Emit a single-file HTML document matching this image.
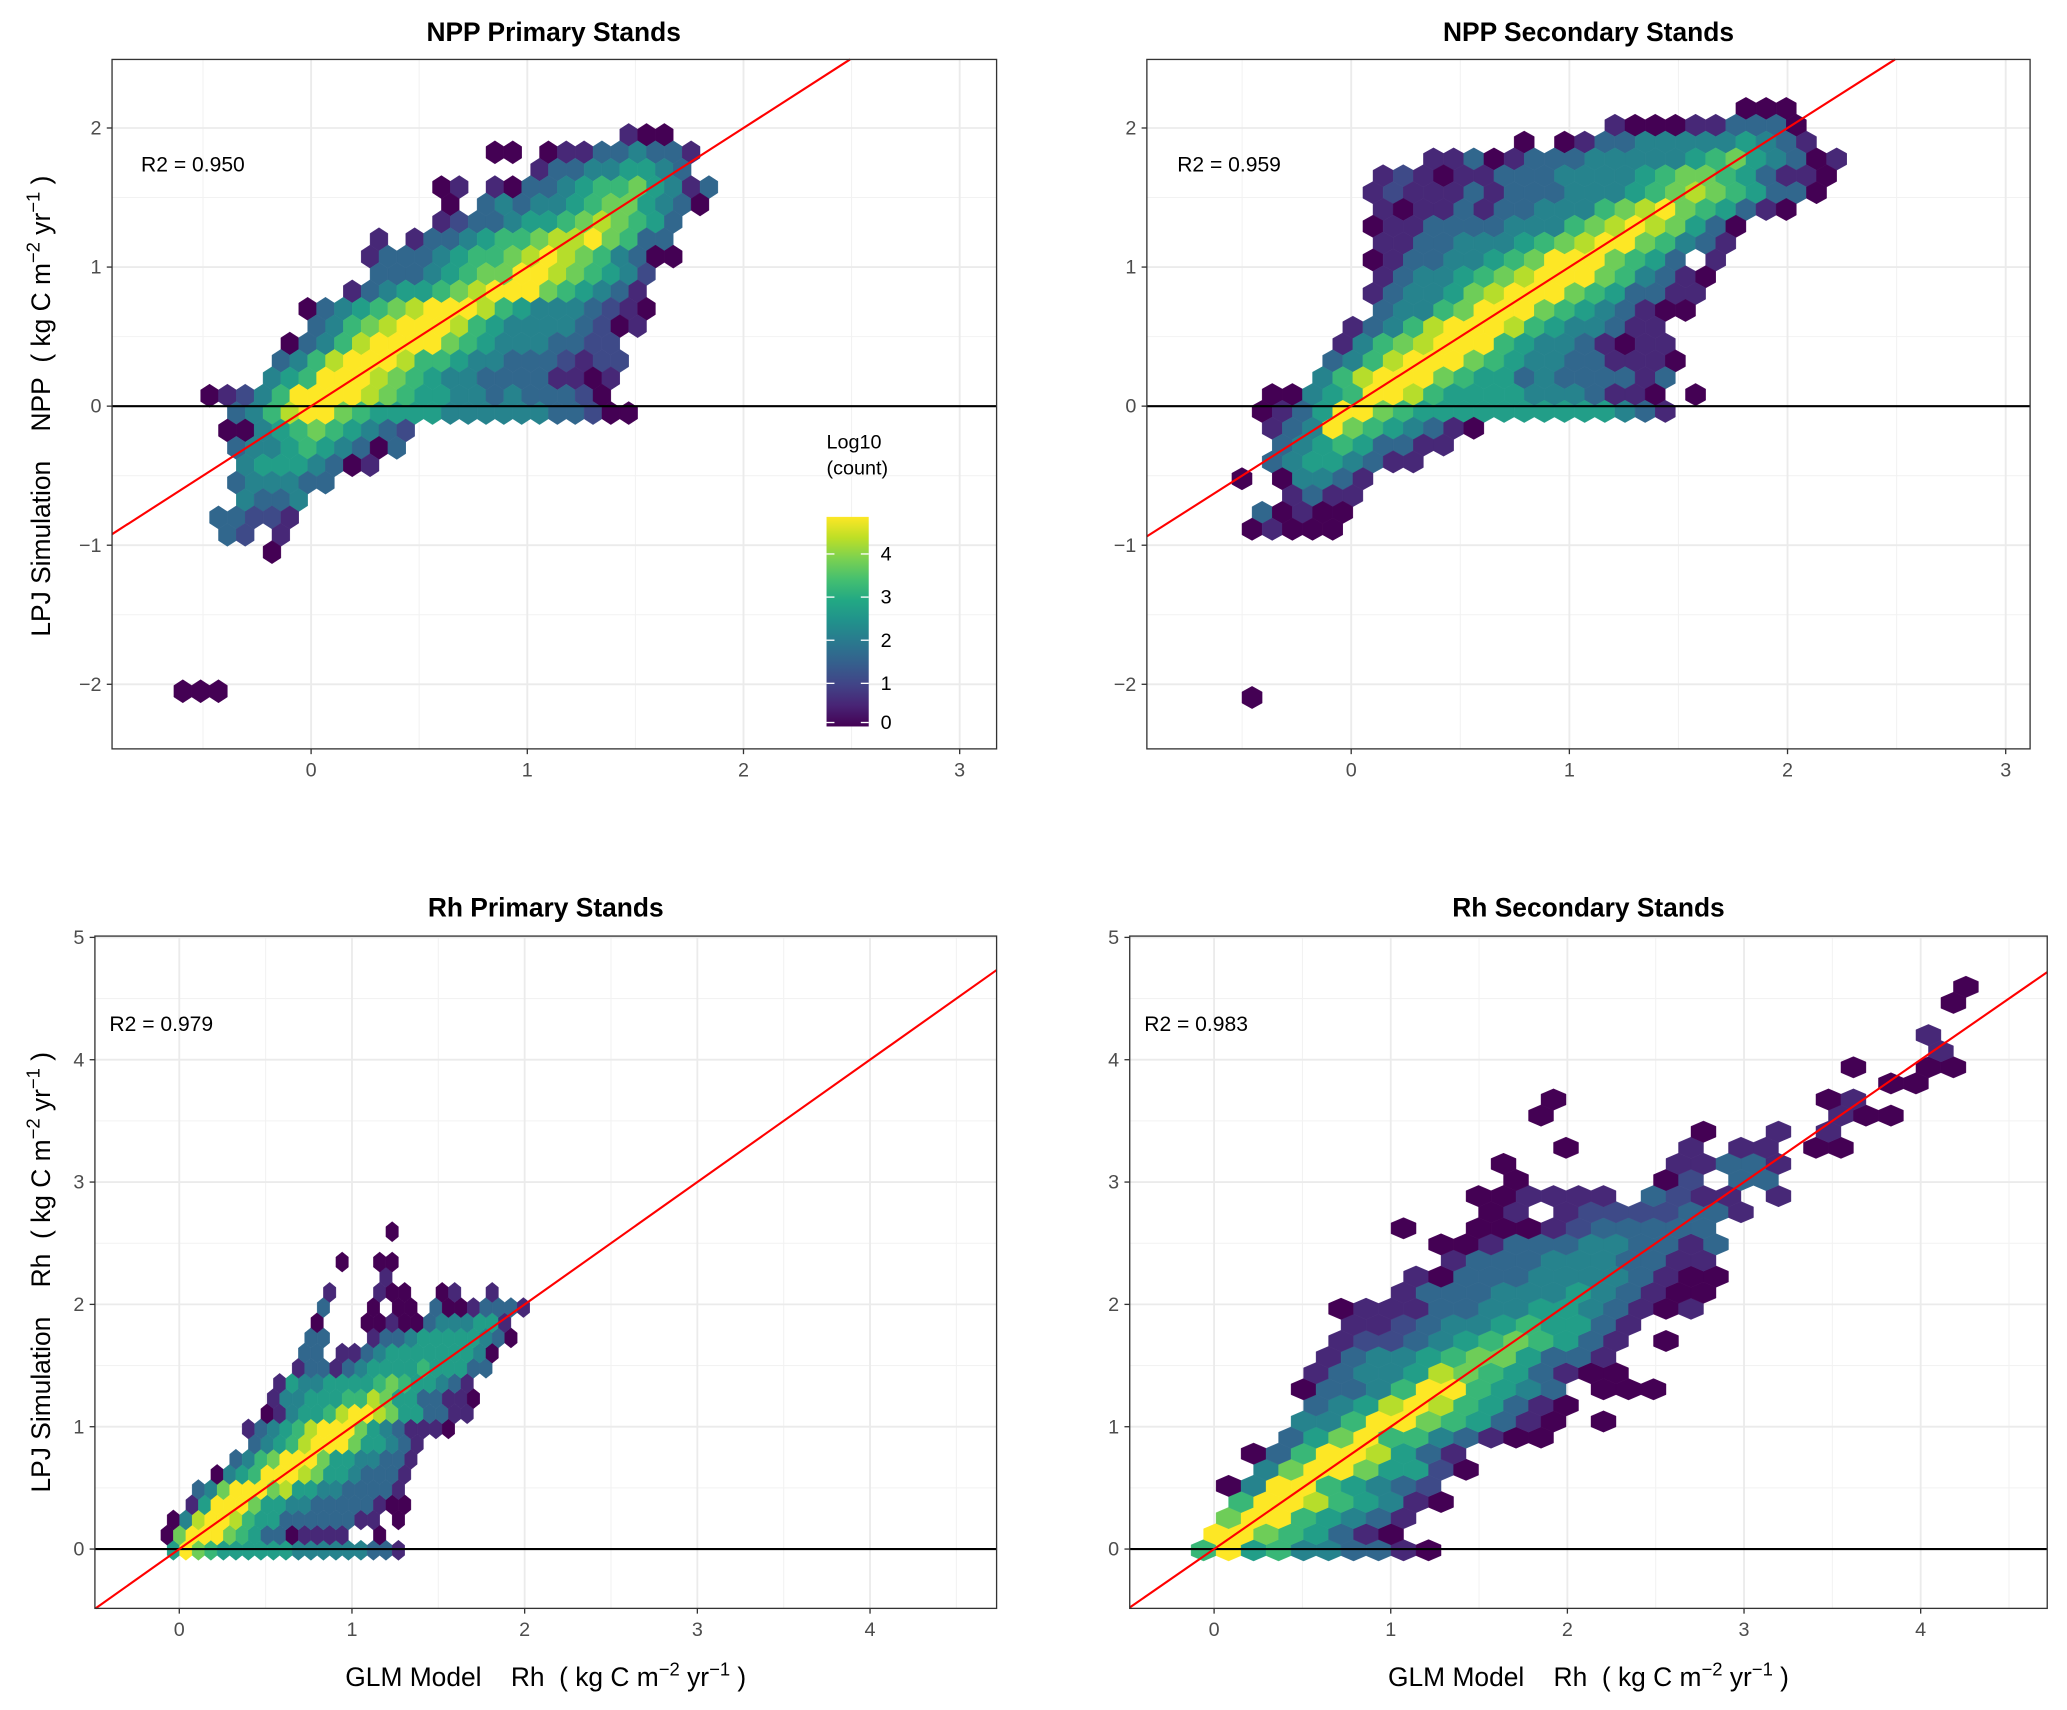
<!DOCTYPE html>
<html><head><meta charset="utf-8"><style>
html,body{margin:0;padding:0;background:#fff;}
svg{display:block;font-family:"Liberation Sans",sans-serif;}
</style></head><body>
<svg id="fig" width="2067" height="1710" viewBox="0 0 1568 1297" xmlns="http://www.w3.org/2000/svg">
<defs>
<linearGradient id="vir" x1="0" y1="1" x2="0" y2="0">
<stop offset="0" stop-color="#440154"/><stop offset="0.1" stop-color="#482475"/><stop offset="0.2" stop-color="#414487"/><stop offset="0.3" stop-color="#355f8d"/><stop offset="0.4" stop-color="#2a788e"/><stop offset="0.5" stop-color="#21918c"/><stop offset="0.6" stop-color="#22a884"/><stop offset="0.7" stop-color="#44bf70"/><stop offset="0.8" stop-color="#7ad151"/><stop offset="0.9" stop-color="#bddf26"/><stop offset="1" stop-color="#fde725"/>
</linearGradient>
</defs>
<text x="420" y="31" text-anchor="middle" font-size="20" font-weight="bold">NPP Primary Stands</text>
<text x="1205" y="31" text-anchor="middle" font-size="20" font-weight="bold">NPP Secondary Stands</text>
<text x="414" y="695" text-anchor="middle" font-size="20" font-weight="bold">Rh Primary Stands</text>
<text x="1205" y="695" text-anchor="middle" font-size="20" font-weight="bold">Rh Secondary Stands</text>
<text transform="translate(38,308) rotate(-90)" text-anchor="middle" font-size="20">LPJ Simulation&#160;&#160;&#160;&#160;NPP&#160;&#160;( kg C m<tspan dy="-8" font-size="14">−2</tspan><tspan dy="8"> yr</tspan><tspan dy="-8" font-size="14">−1</tspan><tspan dy="8"> )</tspan></text>
<text transform="translate(38,965) rotate(-90)" text-anchor="middle" font-size="20">LPJ Simulation&#160;&#160;&#160;&#160;Rh&#160;&#160;( kg C m<tspan dy="-8" font-size="14">−2</tspan><tspan dy="8"> yr</tspan><tspan dy="-8" font-size="14">−1</tspan><tspan dy="8"> )</tspan></text>
<text x="414" y="1279" text-anchor="middle" font-size="20">GLM Model&#160;&#160;&#160;&#160;Rh&#160;&#160;( kg C m<tspan dy="-8" font-size="14">−2</tspan><tspan dy="8"> yr</tspan><tspan dy="-8" font-size="14">−1</tspan><tspan dy="8"> )</tspan></text>
<text x="1205" y="1279" text-anchor="middle" font-size="20">GLM Model&#160;&#160;&#160;&#160;Rh&#160;&#160;( kg C m<tspan dy="-8" font-size="14">−2</tspan><tspan dy="8"> yr</tspan><tspan dy="-8" font-size="14">−1</tspan><tspan dy="8"> )</tspan></text>
<g id="legend">
<text x="627" y="340" font-size="15">Log10</text>
<text x="627" y="360" font-size="15">(count)</text>
<rect x="627" y="392" width="32" height="159" fill="url(#vir)"/>
</g>
</svg>
<script>
// ---- data: hex bins per panel, rows of [rowIndex, startColumn, levelString] ----
// level digit d -> log10(count) = d*0.54 ; '.' = empty bin
const legendTicks = [0, 1, 2, 3, 4];
const legendMax = 4.86;
const levelStep = 0.54;
const r2Labels = ["R2 = 0.950", "R2 = 0.959", "R2 = 0.979", "R2 = 0.983"];
const npXTicks = [0, 1, 2, 3];
const npYTicks = [-2, -1, 0, 1, 2];
const rhXTicks = [0, 1, 2, 3, 4];
const rhYTicks = [0, 1, 2, 3, 4, 5];

const p1Rows = [
[32,26,"100"],[31,18.5,"00.011334331"],[30,21,"133445543"],[29,15.5,"01.1033456675413"],
[28,16,"0.3434456775430"],[27,15.5,"12334556787653"],[26,12,"1.133456678897633"],
[25,11.5,"133345667898764300"],[24,12,"3334567799876542"],[23,10.5,"13455678999765431"],
[22,8,"03456789998654443210"],[21,8.5,"3467899986544443201"],[20,7,"0346899997654443322"],
[19,6.5,"34689998665443332122"],[18,6,"45699987654433331101"],[17,2.5,"01246999987655443433320"],
[16,4,"34689976555544444433200"],[15,3.5,"00456765432"],[14,4,"3445654303"],[13,4.5,"45554301"],
[12,4,"344433"],[11,4.5,"4334"],[10,3,"33221"],[9,3.5,"32.1"],[8,6,"0"],[0,1,"000"]
];
const p2Rows = [
[0,26,"000"],[1,19.5,"1000113330"],[2,15,"0.0133444445431"],[3,10.5,"113013334444456754301"],
[4,8,"12101133344445677653110"],[5,7.5,"12111313334445678765330"],[6,8,"101131334446789765310"],
[7,7.5,"0113333444678987530"],[8,8,"113344456789976431"],[9,7.5,"0133445679997653.1"],
[10,8,"13445678999764310"],[11,7.5,"13445789997653311"],[12,8,"3446799976543100"],
[13,6.5,"1346899986544311"],[14,6,"14678999654431011"],[15,5.5,"346899976544331110"],
[16,5,"468999765534333313"],[17,2.5,"00456998655554443110.0"],[18,2,"013599765555555555431"],
[19,2.5,"13497654310"],[20,3,"345653311"],[21,2.5,"34554311"],[22,1,"0.04431"],
[23,3.5,"1311"],[24,2,"30100"],[25,1.5,"01000"],[35,1.5,"0"]
];
const p3Rows = [
[0,2,"5976555555444444331"],[1,1.5,"079997653301111..0"],[2,2,"04899865533333311.0"],
[3,3.5,"159997554433333100"],[4,4,"34799978554433331"],[5,5.5,"0456999875543331"],
[6,7,"346799975544331"],[7,8.5,"34568999755431"],[8,8,"13456899975431110"],
[9,9.5,"01455689987553311"],[10,10,"14455566875533110"],[11,10.5,"1544555567655431"],
[12,12,"1331345555655533"],[13,12.5,"33.1134555555540"],[14,13,"33...133455555430"],
[15,14,"0...001003444551"],[16,14.5,"3...0.00.30013331"],[17,15,"1...100..01..1"],
[18,19,"1"],[19,15.5,"0..00"],[21,19.5,"0"]
];
const p4Rows = [
[0,1,"6956443310"],[1,1.5,"99765310"],[2,2,"79965431"],[3,2.5,"699865410"],[4,2,"049965432"],
[5,3.5,"479975520"],[6,3,"036998531"],[7,4.5,"35796643100"],[8,5,"44699765310.0"],
[9,5.5,"34589865310"],[10,5,"03346996543.000"],[11,5.5,"1344587653100"],[12,6,"134456775331"],
[13,6.5,"122345676531.0"],[14,7,"112344565531"],[15,6.5,"011133445543101"],[16,9,"1333444543100"],
[17,9.5,"1033344443100"],[18,11,"13334443311"],[19,10.5,"001333443313"],[20,9,"0..0001233333"],
[21,12.5,"01.12222331"],[22,12,"001111.3211.1"],[23,13.5,"0.....02.33"],[24,13,"0......11331"],
[25,15.5,"0....1.11.00"],[26,21,"0..1.1"],[27,14.5,"0...........100"],[28,15,"0..........01"],
[29,28.5,"00"],[30,27,"0..00"],[31,30.5,"1"],[32,30,"1"],[34,31,"0"],[35,31.5,"0"]
];

const VIR = ["#440154","#482475","#414487","#355f8d","#2a788e","#21918c","#22a884","#44bf70","#7ad151","#bddf26","#fde725"];
function hex2rgb(h){return [parseInt(h.slice(1,3),16),parseInt(h.slice(3,5),16),parseInt(h.slice(5,7),16)];}
function viridis(t){t=Math.max(0,Math.min(1,t));const s=t*10,i=Math.min(9,Math.floor(s)),f=s-i;const a=hex2rgb(VIR[i]),b=hex2rgb(VIR[i+1]);return "rgb("+a.map((v,k)=>Math.round(v+(b[k]-v)*f)).join(",")+")";}

const NS = "http://www.w3.org/2000/svg";
const svg = document.getElementById("fig");
function mk(tag, attrs, parent){const e=document.createElementNS(NS,tag);for(const k in attrs)e.setAttribute(k,attrs[k]);(parent||svg).appendChild(e);return e;}

const panels = [
 {id:"npp-primary", L:85,R:756,T:45,B:568, x0px:236,xs:164, y0px:308,ys:105.5, xt:npXTicks, yt:npYTicks, rows:p1Rows, bx0:-0.676,bdx:0.0825, by0:-2.05,bdy:0.125, r2:r2Labels[0], r2x:107,r2y:130, rowDir:1},
 {id:"npp-secondary", L:870,R:1540,T:45,B:568, x0px:1025,xs:165.5, y0px:308,ys:105.5, xt:npXTicks, yt:npYTicks, rows:p2Rows, bx0:-0.593,bdx:0.0924, by0:2.14,bdy:0.121, r2:r2Labels[1], r2x:893,r2y:130, rowDir:-1},
 {id:"rh-primary", L:72,R:756,T:710,B:1220, x0px:136,xs:131, y0px:1175,ys:92.8, xt:rhXTicks, yt:rhYTicks, rows:p3Rows, bx0:-0.179,bdx:0.0724, by0:-0.01,bdy:0.124, r2:r2Labels[2], r2x:83,r2y:782, rowDir:1},
 {id:"rh-secondary", L:857,R:1553,T:710,B:1220, x0px:921,xs:134, y0px:1175,ys:92.8, xt:rhXTicks, yt:rhYTicks, rows:p4Rows, bx0:-0.201,bdx:0.1415, by0:-0.01,bdy:0.1316, r2:r2Labels[3], r2x:868,r2y:782, rowDir:1}
];

panels.forEach((p,pi)=>{
  const X=v=>p.x0px+v*p.xs, Y=v=>p.y0px-v*p.ys;
  const xmin=(p.L-p.x0px)/p.xs, xmax=(p.R-p.x0px)/p.xs, ymin=(p.y0px-p.B)/p.ys, ymax=(p.y0px-p.T)/p.ys;
  const clip=mk("clipPath",{id:"clip"+pi},svg.querySelector("defs"));
  mk("rect",{x:p.L,y:p.T,width:p.R-p.L,height:p.B-p.T},clip);
  const g=mk("g",{});
  
  
  const bg=mk("rect",{x:p.L,y:p.T,width:p.R-p.L,height:p.B-p.T,fill:"#fff"},g);
  
  
  for(let v=Math.ceil(xmin*2)/2; v<=xmax; v+=0.5){ if(Math.abs(v-Math.round(v))<1e-6) continue;
    const l=mk("line",{x1:X(v),x2:X(v),y1:p.T,y2:p.B,stroke:"#f2f2f2","stroke-width":0.8},g);
    
     }
  for(let v=Math.ceil(ymin*2)/2; v<=ymax; v+=0.5){ if(Math.abs(v-Math.round(v))<1e-6) continue;
    const l=mk("line",{x1:p.L,x2:p.R,y1:Y(v),y2:Y(v),stroke:"#f2f2f2","stroke-width":0.8},g);
    
     }
  p.xt.forEach(v=>{
    const l=mk("line",{x1:X(v),x2:X(v),y1:p.T,y2:p.B,stroke:"#ebebeb","stroke-width":1.4},g);
    
    
    const tk=mk("line",{x1:X(v),x2:X(v),y1:p.B,y2:p.B+4,stroke:"#333","stroke-width":1},g);
    
    
    const t=mk("text",{x:X(v),y:p.B+21,"text-anchor":"middle","font-size":15,fill:"#4d4d4d"},g);
    t.textContent=String(v).replace("-","−");
    
    
  });
  p.yt.forEach(v=>{
    const l=mk("line",{x1:p.L,x2:p.R,y1:Y(v),y2:Y(v),stroke:"#ebebeb","stroke-width":1.4},g);
    
    
    const tk=mk("line",{x1:p.L-4,x2:p.L,y1:Y(v),y2:Y(v),stroke:"#333","stroke-width":1},g);
    
    
    const t=mk("text",{x:p.L-8,y:Y(v)+5,"text-anchor":"end","font-size":15,fill:"#4d4d4d"},g);
    t.textContent=String(v).replace("-","−");
    
    
  });
  const hg=mk("g",{"clip-path":"url(#clip"+pi+")"},g);
  
  
  const parity0 = (((p.rows[0][1]*2)%2)+2)%2 - (p.rows[0][0]%2); // reference parity
  p.rows.forEach(r=>{
    const rowIdx=r[0], s=r[2];
    let c0=r[1];
    // enforce hex interlocking: row parity decides whole / half column start
    const want=((rowIdx%2)+parity0+2)%2; // 0 -> integer, 1 -> half
    const isHalf=Math.abs(c0-Math.floor(c0)-0.5)<1e-6?1:0;
    if(isHalf!==want) c0 = c0-0.5;
    const cy=p.by0+p.rowDir*rowIdx*p.bdy;
    for(let i=0;i<s.length;i++){
      const ch=s[i]; if(ch===".") continue;
      const val=parseInt(ch,10)*levelStep;
      const cx=p.bx0+(c0+i)*p.bdx;
      const hw=p.bdx/2, v1=p.bdy/3, v2=p.bdy*2/3;
      const pts=[[cx,cy+v2],[cx+hw,cy+v1],[cx+hw,cy-v1],[cx,cy-v2],[cx-hw,cy-v1],[cx-hw,cy+v1]].map(q=>X(q[0]).toFixed(2)+","+Y(q[1]).toFixed(2)).join(" ");
      const h=mk("polygon",{points:pts,fill:viridis(val/legendMax),stroke:viridis(val/legendMax),"stroke-width":0.3},hg);
      
      
    }
  });
  const hl=mk("line",{x1:p.L,x2:p.R,y1:Y(0),y2:Y(0),stroke:"#000","stroke-width":1.6},g);
  
  
  const lo=Math.max(xmin,ymin), hi=Math.min(xmax,ymax);
  const rl=mk("line",{x1:X(lo),y1:Y(lo),x2:X(hi),y2:Y(hi),stroke:"#ff0000","stroke-width":1.6},g);
  
  
  const bd=mk("rect",{x:p.L,y:p.T,width:p.R-p.L,height:p.B-p.T,fill:"none",stroke:"#333","stroke-width":1},g);
  
  
  const rt=mk("text",{x:p.r2x,y:p.r2y,"font-size":16,fill:"#000"},g);
  rt.textContent=p.r2;
  
  
});

const leg=document.getElementById("legend");
svg.appendChild(leg);
legendTicks.forEach(v=>{
  const y=551-(v/legendMax)*159+ (v===0?-3:0);
  const a=mk("line",{x1:627,x2:633,y1:y,y2:y,stroke:"#fff","stroke-width":1},leg);
  
  
  const b=mk("line",{x1:653,x2:659,y1:y,y2:y,stroke:"#fff","stroke-width":1},leg);
  
  
  const t=mk("text",{x:668,y:y+5,"font-size":15,fill:"#000"},leg);
  t.textContent=String(v);
  
  
});
</script>
</body></html>
